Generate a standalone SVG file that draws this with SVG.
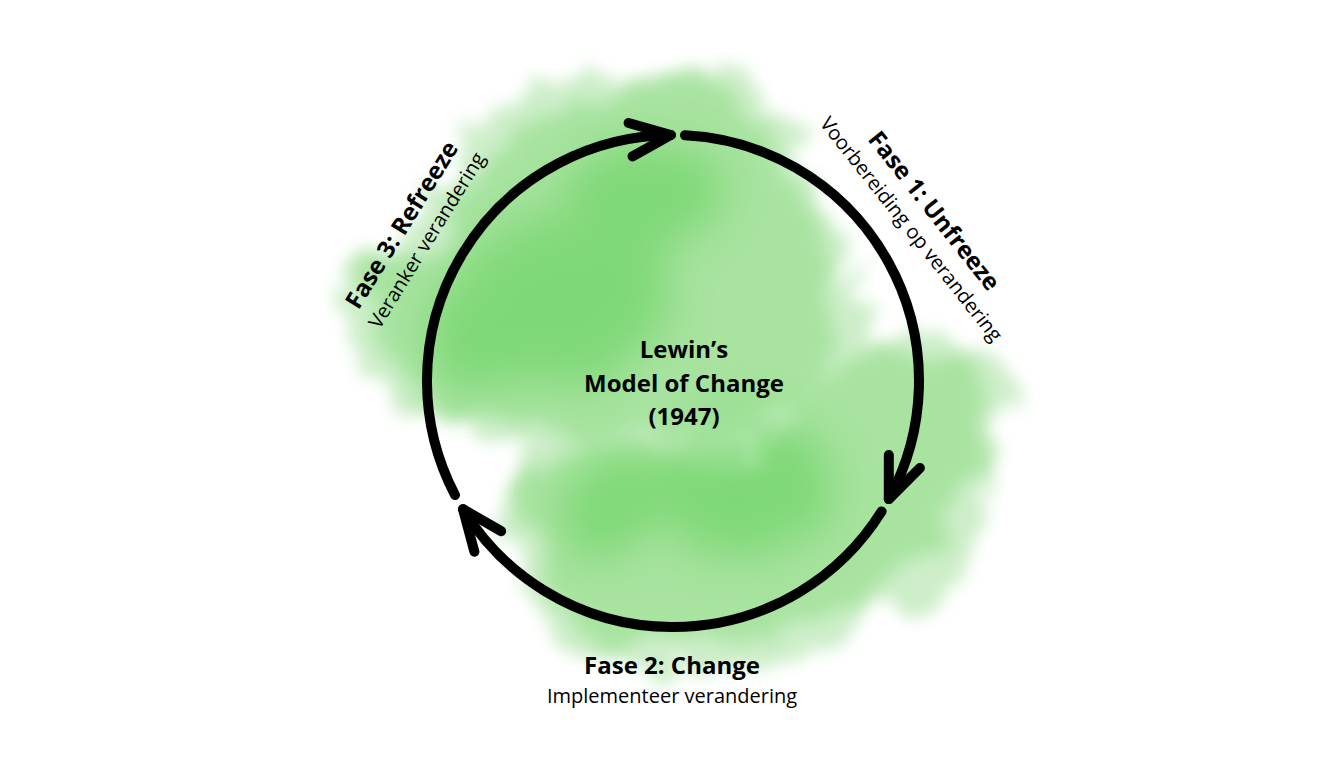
<svg xmlns="http://www.w3.org/2000/svg" width="1344" height="768" viewBox="0 0 1344 768">
  <defs>
    <filter id="halo" x="-30%" y="-30%" width="160%" height="160%">
      <feTurbulence type="fractalNoise" baseFrequency="0.02" numOctaves="4" seed="7" result="n"/>
      <feDisplacementMap in="SourceGraphic" in2="n" scale="70" xChannelSelector="R" yChannelSelector="G" result="d"/>
      <feGaussianBlur in="d" stdDeviation="8"/>
    </filter>
    <filter id="wc" x="-30%" y="-30%" width="160%" height="160%">
      <feTurbulence type="fractalNoise" baseFrequency="0.018" numOctaves="4" seed="11" result="n"/>
      <feDisplacementMap in="SourceGraphic" in2="n" scale="60" xChannelSelector="R" yChannelSelector="G" result="d"/>
      <feGaussianBlur in="d" stdDeviation="9"/>
    </filter>
    <filter id="soft" x="-60%" y="-60%" width="220%" height="220%">
      <feTurbulence type="fractalNoise" baseFrequency="0.03" numOctaves="3" seed="3" result="n"/>
      <feDisplacementMap in="SourceGraphic" in2="n" scale="50" xChannelSelector="R" yChannelSelector="G" result="d"/>
      <feGaussianBlur in="d" stdDeviation="22"/>
    </filter>
    <marker id="arr" markerUnits="userSpaceOnUse" markerWidth="100" markerHeight="100" refX="0" refY="0" orient="auto" overflow="visible">
      <path d="M -42.2,-12.4 L 0,0 L -38.6,21.1" fill="none" stroke="#000" stroke-width="10" stroke-linecap="round" stroke-linejoin="round"/>
    </marker>
    <style>
      .arc { fill: none; stroke: #000; stroke-width: 10; stroke-linecap: round; marker-end: url(#arr); }
      .t { font-family: "Open Sans", "Noto Sans", "Liberation Sans", sans-serif; fill: #000; }
      .b { font-weight: 700; font-size: 24px; }
      .s { font-weight: 400; font-size: 20px; }
      .c { text-anchor: middle; }
    </style>
  </defs>
  <rect width="1344" height="768" fill="#ffffff"/>

  <g id="blob">
    <g filter="url(#halo)" fill="#cdeec9">
      <path d="M410,245 L455,160 L515,105 L600,75 L690,62 L770,85 L795,155 L840,210 L852,285 L860,340 L810,425 L700,445 L560,455 L470,432 L400,418 L345,335 L345,258 Z"/>
      <path d="M795,365 L880,328 L965,340 L1005,385 L998,465 L968,530 L975,568 L905,608 L820,628 L752,560 L752,445 Z"/>
      <path d="M510,440 L600,425 L700,445 L855,475 L908,560 L835,650 L700,672 L595,658 L538,615 L508,540 Z"/>
    </g>
    <g filter="url(#wc)" fill="#a2e29a" opacity="0.85">
      <path d="M430,255 L470,180 L530,125 L605,95 L690,82 L755,105 L778,165 L820,220 L830,285 L835,340 L790,410 L700,430 L565,440 L480,420 L415,400 L370,330 L370,270 Z"/>
      <path d="M810,375 L880,350 L950,360 L980,395 L975,460 L945,520 L945,550 L890,585 L820,600 L770,550 L770,455 Z"/>
      <path d="M530,455 L605,445 L700,462 L840,490 L885,560 L820,625 L700,648 L605,635 L555,600 L530,540 Z"/>
    </g>
    <g filter="url(#soft)" fill="#5fd056" opacity="0.55">
      <ellipse cx="560" cy="300" rx="110" ry="80"/>
      <ellipse cx="640" cy="195" rx="80" ry="55"/>
      <ellipse cx="745" cy="485" rx="90" ry="70"/>
      <ellipse cx="470" cy="330" rx="45" ry="60"/>
      <ellipse cx="610" cy="505" rx="55" ry="45"/>
    </g>
  </g>

  <g id="connectors">
    <path class="arc" d="M685.0,135.3 A246,246 0 0 1 888.8,499.1"/>
    <path class="arc" d="M881.6,511.4 A246,246 0 0 1 463.0,509.2"/>
    <path class="arc" d="M455.0,495.0 A246,246 0 0 1 670.9,135.0"/>
  </g>

  <g id="center">
    <text class="t b c" x="684" y="358">Lewin’s</text>
    <text class="t b c" x="684" y="392">Model of Change</text>
    <text class="t b c" x="684" y="425">(1947)</text>
  </g>

  <g id="fase1" transform="translate(934,211) rotate(51.6)">
    <text class="t b c" x="0" y="8">Fase 1: Unfreeze</text>
    <text class="t s c" x="0" y="36">Voorbereiding op verandering</text>
  </g>

  <g id="fase2">
    <text class="t b c" x="672" y="674">Fase 2: Change</text>
    <text class="t s c" x="672" y="703">Implementeer verandering</text>
  </g>

  <g id="fase3" transform="translate(402,225) rotate(-58.3)">
    <text class="t b c" x="0" y="8">Fase 3: Refreeze</text>
    <text class="t s c" x="0" y="36">Veranker verandering</text>
  </g>
</svg>
